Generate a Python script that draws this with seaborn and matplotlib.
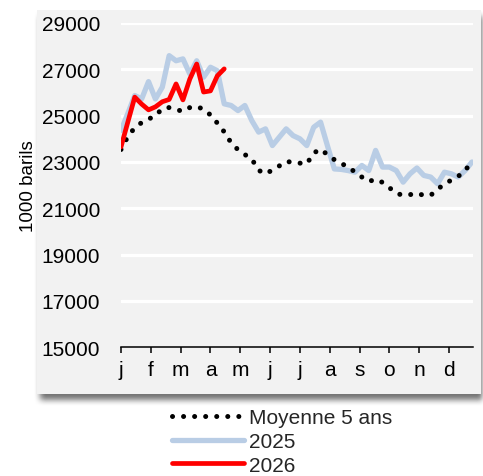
import numpy as np
import pandas as pd
import matplotlib
matplotlib.use("Agg")
import matplotlib.pyplot as plt
from matplotlib.patches import Rectangle
import seaborn as sns

# weekly stocks, 1000 barils
avg_5y = [23540, 24100, 24480, 24700, 24850, 25000, 25300, 25350, 25260, 25190,
          25350, 25390, 25280, 25030, 24680, 24300, 23830, 23530, 23320, 23130,
          22640, 22490, 22650, 22830, 23020, 22990, 22950, 22920, 23390, 23550,
          23320, 23100, 22930, 22800, 22560, 22350, 22160, 22250, 22120, 21890,
          21650, 21560, 21590, 21650, 21560, 21560, 21830, 22040, 22220, 22380,
          22630, 23020]
y2025 = [24360, 25100, 25870, 25720, 26470, 25720, 26230, 27590, 27370, 27450,
         26800, 27370, 26660, 27090, 26940, 25510, 25440, 25220, 25440, 24790,
         24290, 24430, 23710, 24070, 24430, 24140, 24000, 23710, 24500, 24720,
         23700, 22700, 22680, 22630, 22560, 22850, 22630, 23500, 22780, 22780,
         22630, 22130, 22490, 22740, 22420, 22350, 22060, 22560, 22490, 22350,
         22630, 23000]
y2026 = [23650, 24730, 25800, 25500, 25250, 25380, 25600, 25700, 26370, 25680,
         26580, 27230, 26020, 26070, 26720, 27020]
months = ["j", "f", "m", "a", "m", "j", "j", "a", "s", "o", "n", "d"]

W, H = 483, 477
sns.set_theme(style="white")
plt.rcParams["font.family"] = ["Liberation Sans", "DejaVu Sans"]

fig = plt.figure(figsize=(W / 100, H / 100), dpi=100)
fig.patch.set_facecolor("white")

# background panel with soft drop shadow (pixel coordinates)
bg = fig.add_axes([0, 0, 1, 1], zorder=-10)
bg.set_xlim(0, W)
bg.set_ylim(H, 0)
bg.axis("off")
px0, px1, py0, py1 = 37, 481, 11, 395
mask = np.zeros((H, W))
mask[py0 + 6:py1 + 6, px0 + 3:min(px1 + 3, W)] = 1.0


def blur(a, r, axis):
    k = np.ones(2 * r + 1) / (2 * r + 1)
    return np.apply_along_axis(lambda v: np.convolve(v, k, mode="same"), axis, a)


for _ in range(2):
    mask = blur(blur(mask, 3, 0), 3, 1)
shadow = 1 - 0.55 * mask
bg.imshow(shadow, cmap="gray", vmin=0, vmax=1, extent=(0, W, H, 0),
          interpolation="bilinear", aspect="auto")
bg.add_patch(Rectangle((px0, py0), px1 - px0, py1 - py0,
                       facecolor="#f2f2f2", edgecolor="none"))

ax = fig.add_axes([121 / W, 1 - 348.3 / H, (473 - 121) / W, (348.3 - 24) / H])
ax.set_facecolor("none")

df25 = pd.DataFrame({"week": np.arange(len(y2025)), "val": y2025})
dfavg = pd.DataFrame({"week": np.arange(len(avg_5y)), "val": avg_5y})
df26 = pd.DataFrame({"week": np.arange(len(y2026)), "val": y2026})

for yv in range(17000, 29001, 2000):
    ax.axhline(yv, color="white", lw=2.3, zorder=0)

sns.lineplot(data=df25, x="week", y="val", ax=ax, color="#b9cde5",
             lw=3.8, label="2025", zorder=2)
sns.lineplot(data=dfavg, x="week", y="val", ax=ax, color="black",
             lw=3.6, label="Moyenne 5 ans", zorder=3,
             linestyle=(0, (0.01, 2.2)), dash_capstyle="round")
sns.lineplot(data=df26, x="week", y="val", ax=ax, color="#ff0000",
             lw=3.4, label="2026", zorder=4)

ax.set_xlim(0, 51.15)
ax.set_ylim(15000, 29000)
ax.set_yticks(range(15000, 29001, 2000))
ax.set_xticks([52 / 12 * k for k in range(12)])
ax.set_xticklabels(months)
ax.tick_params(axis="y", length=0, pad=15, labelsize=15, colors="black")
ax.tick_params(axis="x", direction="out", length=4.5, width=1.1, pad=5,
               labelsize=15, colors="black", bottom=True)
for s in ["top", "right", "left"]:
    ax.spines[s].set_visible(False)
ax.spines["bottom"].set_color("black")
ax.spines["bottom"].set_linewidth(1.1)
ax.set_xlabel("")
ax.set_ylabel("1000 barils", fontsize=13.5, color="black")
ax.yaxis.set_label_coords(-0.24, 0.5)

handles, labels = ax.get_legend_handles_labels()
order = [labels.index(l) for l in ["Moyenne 5 ans", "2025", "2026"]]
ax.get_legend().remove()
fig.legend([handles[i] for i in order], [labels[i] for i in order],
           loc="center left", bbox_to_anchor=(172 / W, 1 - 442.5 / H),
           frameon=False, fontsize=15, handlelength=3.45, handletextpad=0.25,
           labelspacing=0.22, borderpad=0, borderaxespad=0)

fig.savefig("out.png", dpi=100, facecolor="white")
